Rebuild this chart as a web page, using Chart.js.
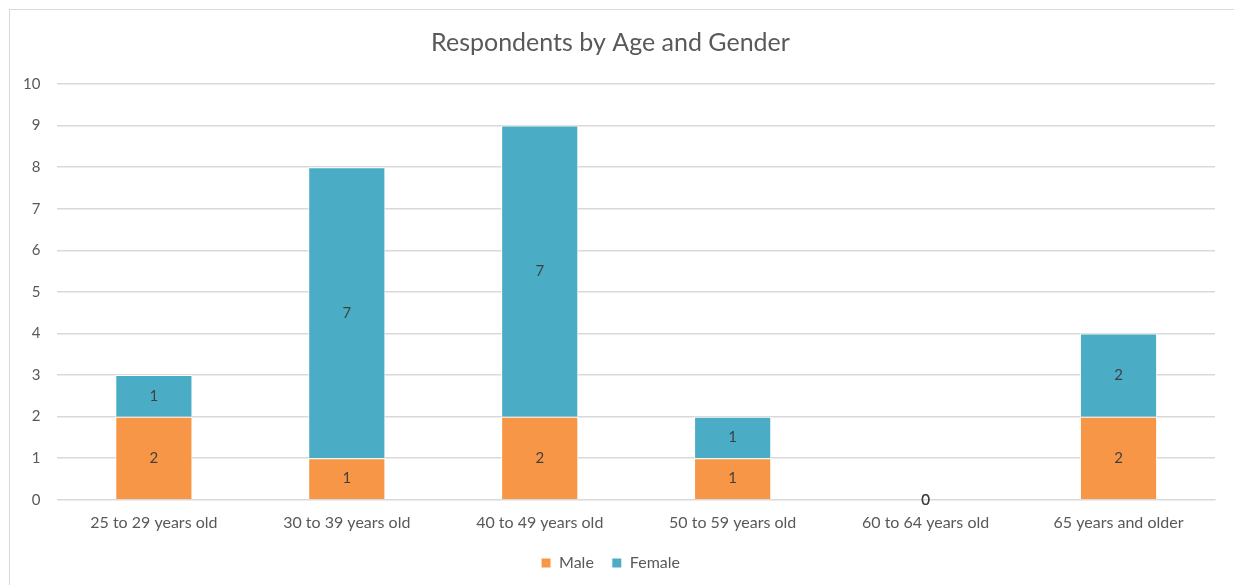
<!DOCTYPE html>
<html>
<head>
<meta charset="utf-8">
<script src="https://cdn.jsdelivr.net/npm/chart.js@4"></script>
<style>
  html, body { margin: 0; padding: 0; background: #fff; }
  #wrap { position: relative; width: 1234px; height: 585px; overflow: hidden; }
  #frame { position: absolute; left: 9px; top: 9px; width: 1240px; height: 600px; border: 1px solid #d9d9d9; box-sizing: border-box; }
  #chart { position: absolute; left: 0; top: 0; }
</style>
</head>
<body>
<div id="wrap">
  <div id="frame"></div>
  <canvas id="chart" width="1234" height="585"></canvas>
</div>
<script>
// Datos del gráfico
const ageGroups = ['25 to 29 years old', '30 to 39 years old', '40 to 49 years old', '50 to 59 years old', '60 to 64 years old', '65 years and older'];
const maleCounts = [2, 1, 2, 1, 0, 2];
const femaleCounts = [1, 7, 7, 1, 0, 2];
const yTicks = [0, 1, 2, 3, 4, 5, 6, 7, 8, 9, 10];

const textColor = '#595959';
const fontFamily = 'Lato, "Open Sans", sans-serif';

// Etiquetas de valor centradas en cada segmento (estilo Excel)
const barLabels = {
    id: 'barLabels',
    afterDatasetsDraw(chart) {
        const ctx = chart.ctx;
        ctx.save();
        ctx.font = '15px ' + fontFamily;
        ctx.fillStyle = '#404040';
        ctx.textAlign = 'center';
        ctx.textBaseline = 'middle';
        chart.data.datasets.forEach((ds, i) => {
            const meta = chart.getDatasetMeta(i);
            meta.data.forEach((bar, j) => {
                const y = (bar.y + bar.base) / 2;
                ctx.fillText(String(ds.data[j]), bar.x, y);
            });
        });
        ctx.restore();
    }
};

new Chart(document.getElementById('chart').getContext('2d'), {
    type: 'bar',
    data: {
        labels: ageGroups,
        datasets: [
            { label: 'Male', data: maleCounts, backgroundColor: '#F79646', borderColor: '#ffffff', borderWidth: 1 },
            { label: 'Female', data: femaleCounts, backgroundColor: '#4BACC6', borderColor: '#ffffff', borderWidth: 1 }
        ]
    },
    options: {
        responsive: false,
        animation: false,
        layout: { padding: { left: 6, right: 19, top: 14, bottom: 4 } },
        datasets: { bar: { categoryPercentage: 1, barPercentage: 0.4 } },
        plugins: {
            title: {
                display: true,
                text: 'Respondents by Age and Gender',
                color: textColor,
                font: { family: fontFamily, size: 25, weight: 'normal' },
                padding: { top: 14, bottom: 26 }
            },
            legend: {
                position: 'bottom',
                labels: {
                    color: textColor,
                    font: { family: fontFamily, size: 16 },
                    boxWidth: 10,
                    boxHeight: 10,
                    padding: 18
                }
            },
            tooltip: { enabled: false }
        },
        scales: {
            x: {
                stacked: true,
                grid: { display: false },
                border: { color: '#d9d9d9' },
                ticks: { color: textColor, font: { family: fontFamily, size: 16 }, padding: 5 }
            },
            y: {
                stacked: true,
                min: 0,
                max: 10,
                afterBuildTicks(axis) { axis.ticks = yTicks.map(v => ({ value: v })); },
                grid: { color: '#d9d9d9', lineWidth: 1.5, drawTicks: false },
                border: { display: false },
                ticks: { color: textColor, font: { family: fontFamily, size: 15 }, padding: 17 }
            }
        }
    },
    plugins: [barLabels]
});
</script>
</body>
</html>
